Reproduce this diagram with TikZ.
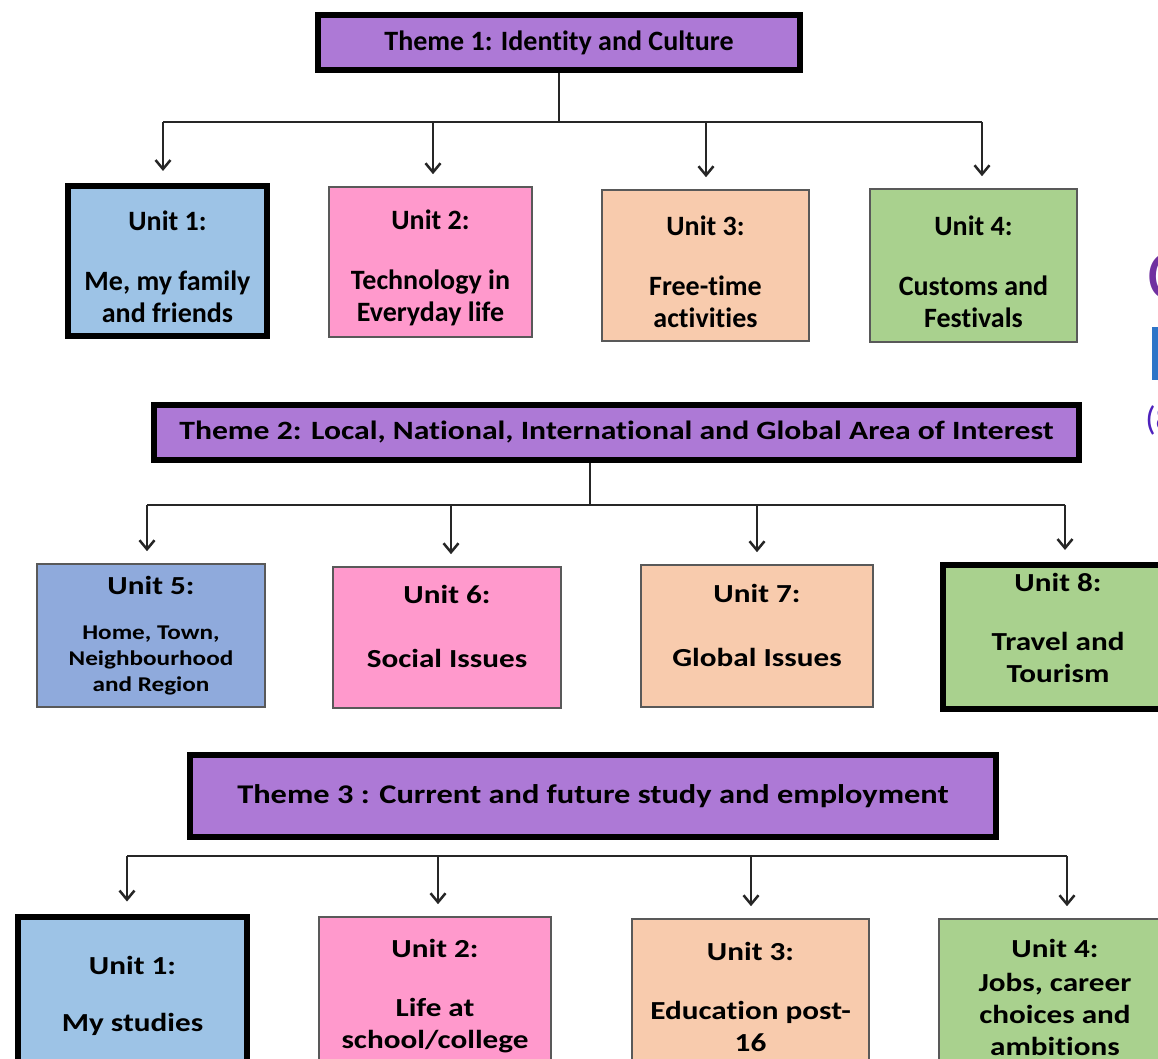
\documentclass[tikz,border=0pt]{standalone}
\usepackage{fontspec}
\setmainfont{Carlito}[Ligatures=CommonOff]
\newfontfamily\widefont[FakeStretch=1.2,Ligatures=CommonOff]{Carlito}
\usetikzlibrary{calc,arrows.meta}
\definecolor{themepurple}{RGB}{173,121,214}
\definecolor{unitblue}{RGB}{157,195,230}
\definecolor{homeblue}{RGB}{143,170,220}
\definecolor{unitpink}{RGB}{255,153,204}
\definecolor{unitpeach}{RGB}{248,203,173}
\definecolor{unitgreen}{RGB}{169,209,142}
\definecolor{fragpurple}{RGB}{112,48,160}
\definecolor{fragblue}{RGB}{46,117,200}
\tikzset{>={Straight Barb[length=4.5pt,width=7.5pt]}}
\tikzset{
  theme/.style = {draw=black, line width=3pt, fill=themepurple, inner sep=0pt,
    font=\widefont\bfseries\fontsize{13}{16}\selectfont},
  unit/.style = {draw=black!65, line width=0.8pt, inner sep=0pt, align=center,
    font=\bfseries\fontsize{14}{16}\selectfont},
  lowunit/.style = {unit, text height=62pt},
  wideunit/.style = {unit, font=\widefont\bfseries\fontsize{13}{16}\selectfont},
  keybox/.style = {draw=black, line width=3pt},
  branch/.style = {line width=1.25pt, draw=black!85},
  drop/.style = {branch, ->, shorten >=6pt}
}
\newcommand{\rowah}{75pt}
\newcommand{\rowbh}{71pt}
\newcommand{\rowch}{79pt}

\begin{document}
\begin{tikzpicture}[x=0.5pt,y=-0.5pt]
  \useasboundingbox (0,0) rectangle (1158,1059);
  \clip (0,0) rectangle (1158,1059);

  \node[theme, minimum width=241pt, minimum height=27.5pt, font=\bfseries\fontsize{14}{16}\selectfont] (t1) at (559,42.5) {Theme 1: Identity and Culture};
  \node[lowunit, keybox, fill=unitblue, minimum width=99.5pt, minimum height=\rowah] (u1) at (167.5,261) {Unit 1:\\[14pt]Me, my family\\and friends};
  \node[lowunit, fill=unitpink, minimum width=101.5pt, minimum height=\rowah] (u2) at (430.5,262) {Unit 2:\\[14pt]Technology in\\Everyday life};
  \node[lowunit, fill=unitpeach, minimum width=103.5pt, minimum height=75.5pt] (u3) at (705.5,265.5) {Unit 3:\\[14pt]Free-time\\activities};
  \node[lowunit, fill=unitgreen, minimum width=103.5pt, minimum height=76.5pt] (u4) at (973.5,265.5) {Unit 4:\\[14pt]Customs and\\Festivals};
  \coordinate (a1) at (163,122);
  \coordinate (a2) at (433,122);
  \coordinate (a3) at (706,122);
  \coordinate (a4) at (982,122);
  \draw[branch] (t1.south) -- (t1.south |- a1);
  \draw[branch] (a1) -- (a4);
  \foreach \a/\u in {a1/u1, a2/u2, a3/u3, a4/u4}
    \draw[drop] (\a) -- (\a |- \u.north);

  \node[theme, minimum width=462.5pt, minimum height=27.5pt, font=\widefont\bfseries\fontsize{13.2}{16}\selectfont] (t2) at (616.5,432.5) {Theme 2: Local, National, International and Global Area of Interest};
  \node[wideunit, fill=homeblue, minimum width=114pt, minimum height=71.5pt, font=\widefont\bfseries\fontsize{13}{13}\selectfont] (u5) at (151,635.5) {Unit 5:\\[9.5pt]{\fontsize{10.5}{13}\selectfont Home, Town,}\\{\fontsize{10.5}{13}\selectfont Neighbourhood}\\{\fontsize{10.5}{13}\selectfont and Region}};
  \node[wideunit, fill=unitpink, minimum width=114pt, minimum height=70.5pt, text depth=11pt] (u6) at (447,637.5) {Unit 6:\\[16pt]Social Issues};
  \node[wideunit, fill=unitpeach, minimum width=116pt, minimum height=\rowbh, text depth=11pt] (u7) at (757,636) {Unit 7:\\[16pt]Global Issues};
  \node[wideunit, keybox, fill=unitgreen, minimum width=115pt, minimum height=72pt, text depth=9pt] (u8) at (1058,637) {Unit 8:\\[13.5pt]Travel and\\Tourism};
  \coordinate (b1) at (147,505);
  \coordinate (b2) at (451,505);
  \coordinate (b3) at (757,505);
  \coordinate (b4) at (1065,505);
  \coordinate (j2) at (590,505);
  \draw[branch] (j2 |- t2.south) -- (j2);
  \draw[branch] (b1) -- (b4);
  \foreach \b/\u in {b1/u5, b2/u6, b3/u7, b4/u8}
    \draw[drop] (\b) -- (\b |- \u.north);

  \node[theme, minimum width=403pt, minimum height=41pt, font=\widefont\bfseries\fontsize{13.5}{16}\selectfont] (t3) at (593,796) {Theme 3 : Current and future study and employment};
  \node[wideunit, keybox, fill=unitblue, minimum width=114.5pt, minimum height=\rowch] (v1) at (132.5,995.5) {Unit 1:\\[12.5pt]My studies};
  \node[wideunit, fill=unitpink, minimum width=116pt, minimum height=\rowch] (v2) at (435,996) {Unit 2:\\[13.5pt]Life at\\school/college};
  \node[wideunit, fill=unitpeach, minimum width=118.5pt, minimum height=78pt] (v3) at (750.5,997) {Unit 3:\\[13.5pt]Education post-\\16};
  \node[wideunit, fill=unitgreen, minimum width=116pt, minimum height=78pt] (v4) at (1055,997) {Unit 4:\\[1pt]Jobs, career\\choices and\\ambitions};
  \coordinate (c1) at (127,856);
  \coordinate (c2) at (438,856);
  \coordinate (c3) at (751,856);
  \coordinate (c4) at (1067,856);
  \draw[branch] (c1) -- (c4);
  \foreach \c/\u in {c1/v1, c2/v2, c3/v3, c4/v4}
    \draw[drop] (\c) -- (\c |- \u.north);

  \node[anchor=west, inner sep=0pt, text=fragpurple, font=\fontsize{36}{36}\selectfont] (frag1) at (1147,276) {C};
  \fill[fragblue] (1152,327) rectangle (1162,380);
  \node[anchor=west, inner sep=0pt, text=fragpurple!70!blue, font=\fontsize{17}{17}\selectfont] (frag2) at (1145,420) {(8};
\end{tikzpicture}
\end{document}
